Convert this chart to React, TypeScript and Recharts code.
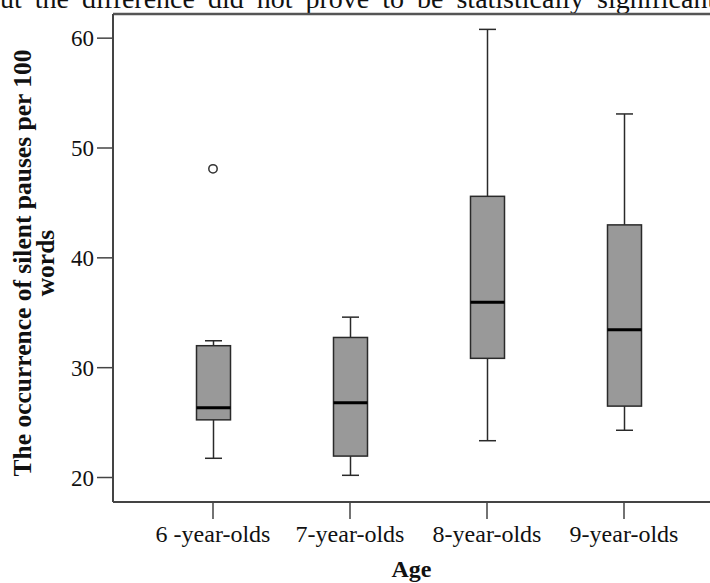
import React from 'react';
import { ComposedChart, Bar, Scatter, XAxis, YAxis, ReferenceLine } from 'recharts';

const categories = ['6 -year-olds', '7-year-olds', '8-year-olds', '9-year-olds'];
const whiskerLow = [21.75, 20.2, 23.35, 24.3];
const q1Values = [25.25, 21.95, 30.85, 26.5];
const medians = [26.35, 26.8, 35.95, 33.45];
const q3Values = [32.0, 32.75, 45.6, 43.0];
const whiskerHigh = [32.45, 34.6, 60.8, 53.1];
const outliers = [48.1, null, null, null];
const yTicks = [20, 30, 40, 50, 60];
const yDomain = [17.77, 62.2];

const data = categories.map((age, i) => ({
  age,
  min: whiskerLow[i],
  q1: q1Values[i],
  med: medians[i],
  q3: q3Values[i],
  max: whiskerHigh[i],
  outlier: outliers[i],
}));

const FONT = "'Liberation Serif', 'Times New Roman', serif";

const BoxShape = (props: any) => {
  const { x, y, width, height, payload } = props;
  if (payload == null || height == null) return null;
  const { min, q1, med, q3, max } = payload;
  const unit = height / (max - min);
  const yOf = (v: number) => y + (max - v) * unit;
  const cx = x + width / 2;
  const cap = width / 4;
  const stroke = '#2a2a2a';
  return (
    <g>
      <line x1={cx} x2={cx} y1={yOf(max)} y2={yOf(q3)} stroke={stroke} strokeWidth={1.5} />
      <line x1={cx} x2={cx} y1={yOf(q1)} y2={yOf(min)} stroke={stroke} strokeWidth={1.5} />
      <line x1={cx - cap} x2={cx + cap} y1={yOf(max)} y2={yOf(max)} stroke={stroke} strokeWidth={1.5} />
      <line x1={cx - cap} x2={cx + cap} y1={yOf(min)} y2={yOf(min)} stroke={stroke} strokeWidth={1.5} />
      <rect x={x} y={yOf(q3)} width={width} height={yOf(q1) - yOf(q3)} fill="#999999" stroke={stroke} strokeWidth={1.5} />
      <line x1={x} x2={x + width} y1={yOf(med)} y2={yOf(med)} stroke="#000" strokeWidth={3} />
    </g>
  );
};

const OutlierShape = (props: any) => {
  const { cx, cy, payload } = props;
  if (payload == null || payload.outlier == null || cy == null || isNaN(cy)) return <g />;
  return <circle cx={cx} cy={cy} r={4.2} fill="#fff" stroke="#333" strokeWidth={1.5} />;
};

const YTitle = (props: any) => {
  const { viewBox } = props;
  const cy = viewBox.y + viewBox.height / 2 + 5;
  return (
    <g>
      <text x={22} y={cy} transform={`rotate(-90, 22, ${cy})`} textAnchor="middle" dominantBaseline="central"
        fontFamily={FONT} fontWeight="bold" fontSize={25.5} fill="#111">
        The occurrence of silent pauses per 100
      </text>
      <text x={45} y={cy} transform={`rotate(-90, 45, ${cy})`} textAnchor="middle" dominantBaseline="central"
        fontFamily={FONT} fontWeight="bold" fontSize={25.5} fill="#111">
        words
      </text>
    </g>
  );
};

export default function App() {
  return (
    <div style={{ position: 'absolute', left: 0, top: 0, width: 710, height: 583, background: '#fff', overflow: 'hidden' }}>
      <svg width={710} height={13} style={{ position: 'absolute', left: 0, top: 0 }}>
        <text x={-14} y={8} fontFamily={FONT} fontSize={28} wordSpacing={6} fill="#111">
          but the difference did not prove to be statistically significant
        </text>
      </svg>
      <ComposedChart
        width={710}
        height={583}
        data={data}
        margin={{ top: 14, right: 0, bottom: 21, left: 0 }}
        barSize={34}
        style={{ position: 'absolute', left: 0, top: 0 }}
      >
        <XAxis
          dataKey="age"
          type="category"
          height={60}
          padding={{ left: 31.5, right: 17.5 }}
          axisLine={{ stroke: '#444', strokeWidth: 2 }}
          tickLine={{ stroke: '#444', strokeWidth: 1.5 }}
          tickSize={17}
          tickMargin={6}
          tick={{ fontFamily: FONT, fontSize: 24, fill: '#111' }}
          interval={0}
          label={{ value: 'Age', position: 'insideBottom', offset: 0, dy: 15, fontFamily: FONT, fontWeight: 'bold', fontSize: 24, fill: '#111' } as any}
        />
        <YAxis
          type="number"
          domain={yDomain}
          ticks={yTicks}
          width={113}
          axisLine={{ stroke: '#444', strokeWidth: 2 }}
          tickLine={{ stroke: '#444', strokeWidth: 1.5 }}
          tickSize={16}
          tickMargin={3}
          tick={{ fontFamily: FONT, fontSize: 23, fill: '#111' }}
          allowDataOverflow
          label={<YTitle />}
        />
        <ReferenceLine y={yDomain[1]} stroke="#555" strokeWidth={2.5} ifOverflow="visible" />
        <Bar dataKey={(d: any) => [d.min, d.max]} shape={<BoxShape />} isAnimationActive={false} />
        <Scatter dataKey="outlier" shape={<OutlierShape />} isAnimationActive={false} />
      </ComposedChart>
    </div>
  );
}
